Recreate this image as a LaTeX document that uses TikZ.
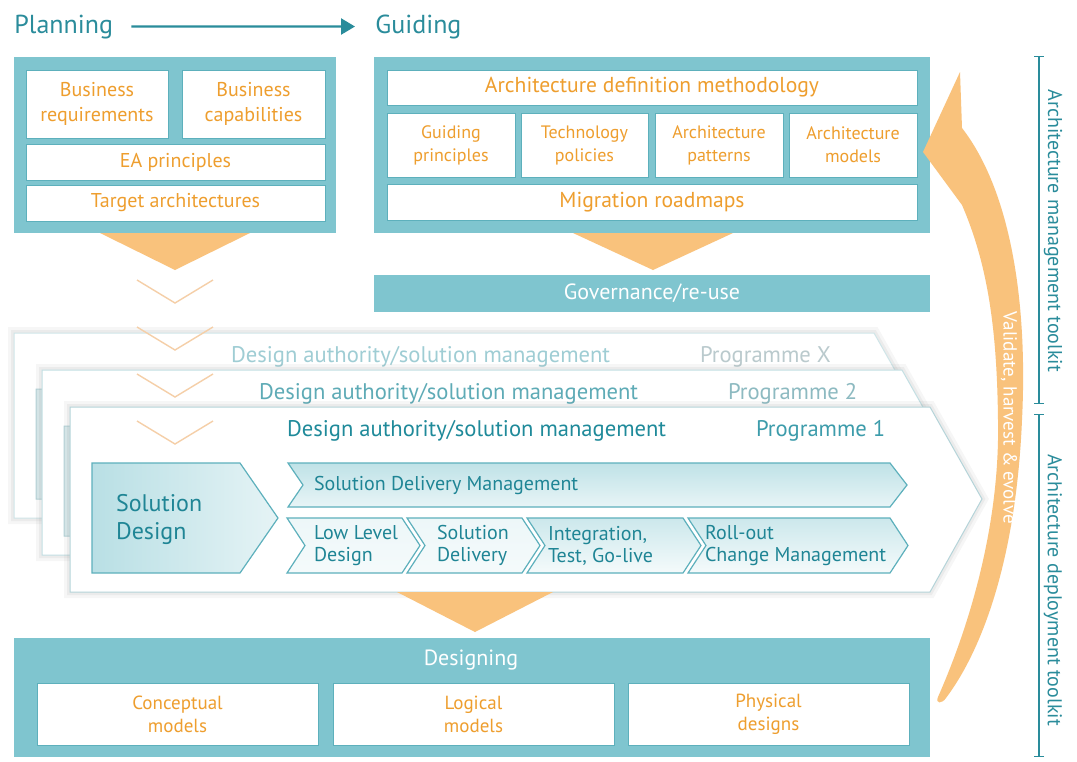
\documentclass[tikz,border=0pt]{standalone}
\usepackage{fontspec}
\setmainfont{PT Sans}
\usetikzlibrary{arrows.meta}

\definecolor{tealfill}{HTML}{7FC5CF}
\definecolor{tealline}{HTML}{5DB0BC}
\definecolor{tealdark}{HTML}{2A8C9B}
\definecolor{tealtext}{HTML}{1F8595}
\definecolor{orangetxt}{HTML}{EE9E2E}
\definecolor{orangefill}{HTML}{F9C27C}
\definecolor{vmarkcol}{HTML}{F5CFA8}
\definecolor{layerx}{HTML}{CFE5E8}
\definecolor{layertwo}{HTML}{C3DFE3}
\definecolor{layerone}{HTML}{B5D4D9}
\definecolor{daxcol}{HTML}{9FCDD4}
\definecolor{pgxcol}{HTML}{BACACD}
\definecolor{datwocol}{HTML}{5EABB6}
\definecolor{pgtwocol}{HTML}{8DBAC1}
\definecolor{daonecol}{HTML}{1F8A9A}
\definecolor{pgonecol}{HTML}{3D9CAB}

% outlines of one programme layer
\newcommand{\progframe}{(70,407) -- (930,407) -- (982,499) -- (930,592) -- (70,592) -- cycle}
\newcommand{\sdshape}{(92,463) -- (240,463) -- (278,518) -- (240,573) -- (92,573) -- cycle}

\begin{document}
\begin{tikzpicture}[x=0.5pt,y=-0.5pt,
    title/.style={text=tealdark, inner sep=0pt, font=\fontsize{13}{15}\selectfont},
    panel/.style={fill=tealfill},
    cell/.style={fill=white, draw=tealline, line width=0.4pt},
    celltext/.style={text=orangetxt, align=center, font=\fontsize{10}{12.5}\selectfont},
    smalltext/.style={text=orangetxt, align=center, font=\fontsize{9}{11.5}\selectfont},
    bartext/.style={text=white, font=\fontsize{11}{13}\selectfont},
    layer/.style={fill=white, draw=#1, line width=0.5pt,
        preaction={draw=gray, fill=none, opacity=0.07, line width=6pt},
        preaction={draw=gray, fill=none, opacity=0.09, line width=3pt}},
    ghost/.style={fill=layertwo!60, draw=layerone, line width=0.5pt},
    headfont/.style={font=\fontsize{11.3}{13}\selectfont},
    stage/.style={draw=tealline, line width=0.6pt},
    stagetext/.style={text=tealtext, align=left, font=\fontsize{10}{11}\selectfont},
    vmark/.style={draw=vmarkcol, line width=0.7pt},
    bracket/.style={draw=tealdark, line width=0.6pt, {Bar[width=5pt]}-{Bar[width=5pt]}},
    sidetext/.style={text=tealdark, font=\fontsize{10}{12}\selectfont}]

    \fill[white] (0,0) rectangle (1077,761);
    \useasboundingbox (0,0) rectangle (1077,761);

    % planning -> guiding
    \node[title, anchor=base west] (plan) at (14,33) {Planning};
    \node[title, anchor=base west] (guide) at (375,33) {Guiding};
    \draw[tealdark, line width=1.2pt, -{Triangle[length=7pt,width=8pt]},
        shorten <=9pt, shorten >=10pt] (plan) -- (guide);

    % planning panel
    \fill[panel] (14,57) rectangle (336,233);
    \draw[cell] (26,70) rectangle (168,138);
    \node[celltext] (breq) at (97,104) {Business\\requirements};
    \draw[cell] (182,70) rectangle (325,138);
    \node[celltext] (bcap) at (253.5,104) {Business\\capabilities};
    \draw[cell] (26,144) rectangle (325,180);
    \node[celltext] (eap) at (175.5,162) {EA principles};
    \draw[cell] (26,185) rectangle (325,221);
    \node[celltext] (tarch) at (175.5,203) {Target architectures};

    % guiding panel
    \fill[panel] (374,57) rectangle (930,233);
    \draw[cell] (387,70) rectangle (917,105);
    \node[celltext, font=\fontsize{10.8}{12.5}\selectfont] (adm) at (652,87.5) {Architecture definition methodology};
    \draw[cell] (387,113) rectangle (515,177);
    \node[smalltext] (gprin) at (451,145) {Guiding\\principles};
    \draw[cell] (521,113) rectangle (648,177);
    \node[smalltext] (tpol) at (584.5,145) {Technology\\policies};
    \draw[cell] (655,113) rectangle (783,177);
    \node[smalltext] (apat) at (719,145) {Architecture\\patterns};
    \draw[cell] (789,113) rectangle (917,177);
    \node[smalltext] (amod) at (853,145) {Architecture\\models};
    \draw[cell] (387,184) rectangle (917,220);
    \node[celltext, font=\fontsize{10.8}{12.5}\selectfont] (mroad) at (652,202) {Migration roadmaps};

    \fill[orangefill] (100,233) -- (250,233) -- (175,270) -- cycle;
    \fill[orangefill] (573,233) -- (733,233) -- (653,270) -- cycle;

    \fill[panel] (374,275) rectangle (930,312);
    \node[bartext] (gov) at (652,293) {Governance/re-use};

    % programme layers, back to front
    \begin{scope}[shift={(-56,-74)}]
        \draw[layer=layerx] \progframe;
        \draw[ghost] \sdshape;
        \node[anchor=west, text=daxcol, headfont] (dax) at (280,431) {Design authority/solution management};
        \node[anchor=west, text=pgxcol, headfont] (pgx) at (749,431) {Programme X};
    \end{scope}
    \begin{scope}[shift={(-28,-37)}]
        \draw[layer=layertwo] \progframe;
        \draw[ghost] \sdshape;
        \node[anchor=west, text=datwocol, headfont] (datwo) at (280,431) {Design authority/solution management};
        \node[anchor=west, text=pgtwocol, headfont] (pgtwo) at (749,431) {Programme 2};
    \end{scope}
    \draw[layer=layerone] \progframe;
    \node[anchor=west, text=daonecol, headfont] (daone) at (280,431) {Design authority/solution management};
    \node[anchor=west, text=pgonecol, headfont] (pgone) at (749,431) {Programme 1};

    \draw[stage, left color=tealfill!55, right color=tealfill!20] \sdshape;
    \node[stagetext, anchor=west, font=\fontsize{12}{14}\selectfont] (sdes) at (109,519) {Solution\\Design};

    \draw[stage, top color=tealfill!50, bottom color=tealfill!18]
        (288,463) -- (890,463) -- (907,485) -- (890,507) -- (288,507) -- (303,485) -- cycle;
    \node[stagetext, anchor=west] (sdm) at (307,485) {Solution Delivery Management};

    \foreach \xa/\xb/\xt/\tx/\shade/\nm in {287/402/307/{Low Level\\Design}/14/lld,
            407/522/430/{Solution\\Delivery}/14/sdel,
            527/683/541/{Integration,\\Test, Go-live}/40/itg,
            688/890/698/{Roll-out\\Change Management}/40/roll} {
        \draw[stage, top color=tealfill!\shade, bottom color=tealfill!8]
            (\xa,518) -- (\xb,518) -- ({\xb+18},545.5) -- (\xb,573) -- (\xa,573) -- ({\xa+18},545.5) -- cycle;
        \node[stagetext, anchor=west] (\nm) at (\xt,545.5) {\tx};
    }

    % faint chevrons down the left
    \foreach \y in {280,327,374,421}
        \draw[vmark] (137,\y) -- (175,{\y+23}) -- (213,\y);

    \fill[orangefill] (397,592) -- (553,592) -- (475,632) -- cycle;

    % designing panel
    \fill[panel] (14,638) rectangle (930,757);
    \node[bartext] (dsgn) at (471,660) {Designing};
    \draw[cell] (37,683) rectangle (318,745);
    \node[smalltext, font=\fontsize{9.5}{11.5}\selectfont] (cmod) at (177.5,714) {Conceptual\\models};
    \draw[cell] (333,683) rectangle (614,745);
    \node[smalltext, font=\fontsize{9.5}{11.5}\selectfont] (lmod) at (473.5,714) {Logical\\models};
    \draw[cell] (628,683) rectangle (909,745);
    \node[smalltext, font=\fontsize{9.5}{11.5}\selectfont] (pdes) at (768.5,714) {Physical\\designs};

    % validate arrow
    \fill[orangefill] (923,152) -- (960,72) -- (962,128)
        .. controls (1010,190) and (1028,300) .. (1022,420)
        .. controls (1016,560) and (982,650) .. (946,698)
        .. controls (942,704) and (935,704) .. (938,697)
        .. controls (972,620) and (1000,520) .. (998,420)
        .. controls (997,330) and (988,265) .. (962,205) -- cycle;
    \node[rotate=-90, text=white, font=\fontsize{9.5}{11}\selectfont] (valid) at (1009,418) {Validate, harvest \& evolve};

    % toolkits
    \coordinate (mtop) at (1039,56);
    \coordinate (mbot) at (1039,404);
    \coordinate (dtop) at (1039,414);
    \coordinate (dbot) at (1039,757);
    \draw[bracket] (mtop) -- (mbot);
    \draw[bracket] (dtop) -- (dbot);
    \node[sidetext, rotate=-90] (amt) at (1053,231) {Architecture management toolkit};
    \node[sidetext, rotate=-90] (adt) at (1053,590) {Architecture deployment toolkit};

\end{tikzpicture}
\end{document}
